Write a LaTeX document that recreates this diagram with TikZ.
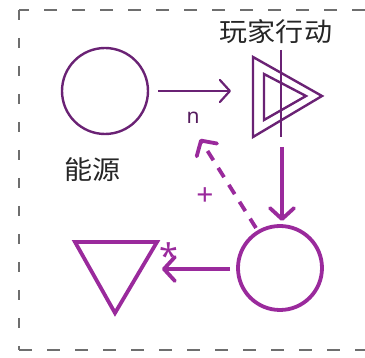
\documentclass[tikz,border=0pt]{standalone}
\usepackage{fontspec}
\newfontfamily\cjk{Noto Sans CJK SC}
\setsansfont{Noto Sans}
\usetikzlibrary{arrows.meta}
\definecolor{dpur}{HTML}{6A2274}
\definecolor{mag}{HTML}{9A2A9C}
\definecolor{bord}{HTML}{6E6E6E}
\tikzset{
  thinline/.style={draw=dpur, line width=2.4pt},
  thickline/.style={draw=mag, line width=3.8pt},
  chev/.style={-{Straight Barb[length=11pt,width=24pt,round]}},
  cjklabel/.style={font=\cjk\fontsize{26}{28}\selectfont, text=black!85, xscale=1.08, inner sep=0pt},
  smalllab/.style={font=\sffamily\bfseries\fontsize{21}{22}\selectfont, inner sep=0pt},
}
\begin{document}
\begin{tikzpicture}[x=1pt,y=-1pt]
\useasboundingbox (0,0) rectangle (365,358);
% border
\draw[bord, line width=1.8pt, dash pattern=on 13pt off 15pt] (365,10) -- (19,10);
\draw[bord, line width=1.6pt, dash pattern=on 10pt off 18pt] (19,10) -- (19,350);
\draw[bord, line width=1.8pt, dash pattern=on 13pt off 15pt] (19,350) -- (365,350);
% source
\node[circle, thinline, minimum size=86pt, inner sep=0pt] (src) at (105,91) {};
\node[cjklabel] (srcl) at (93,170) {能源};
% player action (double triangle)
\coordinate (pa) at (285,96);
\draw[thinline, line join=miter] (253,57) -- (322,96) -- (253,137) -- cycle;
\draw[thinline, line join=miter] (264,74) -- (306,96) -- (264,120) -- cycle;
\draw[thinline] (281,50) -- (281,137);
\node[cjklabel] (pal) at (276,32) {玩家行动};
% arrow source -> action
\coordinate (a1s) at (158,91);
\coordinate (a1e) at (231,91);
\draw[dpur, line width=2.2pt, -{Straight Barb[length=10pt,width=22pt,round]}] (a1s) -- (a1e);
\node[smalllab, text=dpur!80!black] (nl) at (193,118) {n};
% pool
\node[circle, thickline, minimum size=84pt, inner sep=0pt] (pool) at (280,268) {};
% down arrow
\coordinate (d1) at (282,147);
\coordinate (d2) at (282,221);
\draw[mag, line width=3.8pt, chev] (d1) -- (d2);
% dashed feedback
\coordinate (f1) at (256,228);
\coordinate (f2) at (200,139);
\draw[mag, line width=3.8pt, dash pattern=on 11pt off 9pt, chev] (f1) -- (f2);
\node[smalllab, text=mag, font=\sffamily\bfseries\fontsize{30}{30}\selectfont] (plus) at (205,197) {+};
% drain
\draw[thickline, line join=miter] (75,242) -- (157,242) -- (115,313) -- cycle;
\coordinate (l1) at (230,269);
\coordinate (l2) at (162,269);
\draw[mag, line width=3.8pt, chev] (l1) -- (l2);
\node[smalllab, text=mag, font=\sffamily\bfseries\fontsize{34}{34}\selectfont] (star) at (169,256) {*};
\end{tikzpicture}
\end{document}
